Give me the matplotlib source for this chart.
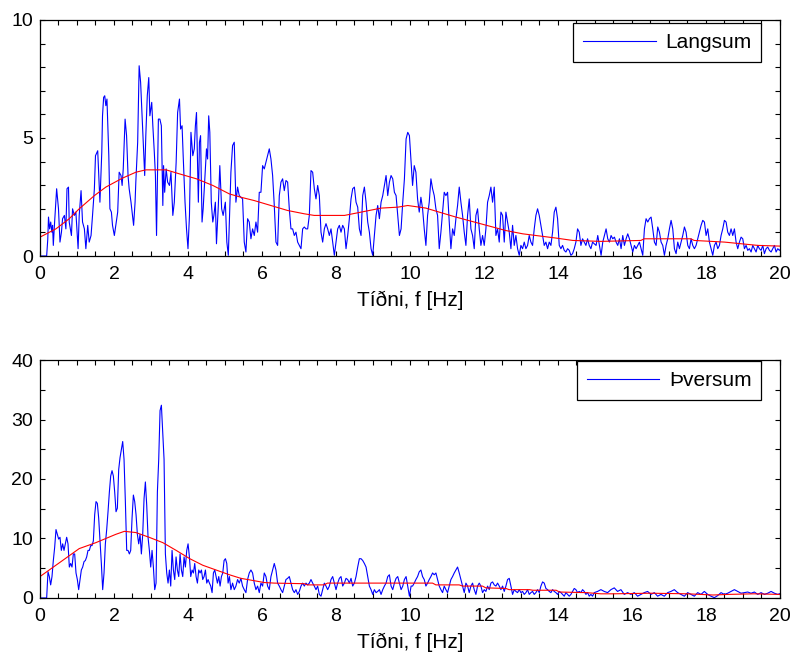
import numpy as np
import matplotlib.pyplot as plt
from matplotlib.ticker import MultipleLocator

plt.rcParams['font.family'] = ['Liberation Sans', 'DejaVu Sans']

# --- Langsum (efri mynd), blár ferill ---
lang_f1 = [0.00, 0.18, 0.21, 0.23, 0.26, 0.29, 0.32, 0.34, 0.36, 0.39, 0.45, 0.50, 0.54, 0.58, 0.61,
           0.66, 0.70, 0.73, 0.77, 0.79, 0.85, 0.88, 0.93, 0.97, 1.03, 1.06, 1.11, 1.15, 1.20, 1.24,
           1.29, 1.33, 1.38, 1.42, 1.47, 1.50, 1.56, 1.59, 1.62, 1.67, 1.69, 1.72, 1.75, 1.78, 1.81,
           1.86, 1.89, 1.93, 1.96, 2.01, 2.05, 2.10, 2.14, 2.19, 2.22, 2.25, 2.30, 2.34, 2.38, 2.41,
           2.46, 2.50, 2.53, 2.57, 2.59, 2.64, 2.68, 2.72, 2.76, 2.79, 2.83, 2.86, 2.90, 2.94, 2.97,
           3.02, 3.05, 3.09, 3.12, 3.15, 3.20, 3.24, 3.28, 3.32, 3.34, 3.37, 3.41, 3.45, 3.50, 3.54,
           3.59, 3.63, 3.68, 3.72, 3.77, 3.80, 3.84, 3.87, 3.92, 3.96, 4.00, 4.04, 4.08, 4.13, 4.17,
           4.20, 4.23, 4.28, 4.31, 4.34, 4.38, 4.41, 4.46, 4.50, 4.53, 4.56, 4.59, 4.63, 4.67, 4.70,
           4.74, 4.77, 4.82, 4.86, 4.91, 4.95, 5.01, 5.05, 5.09]
lang_v1 = [0.00, 0.00, 0.70, 1.65, 1.15, 1.44, 1.01, 1.30, 0.45, 1.30, 2.85, 2.00, 0.59, 1.01, 1.58,
           1.72, 1.15, 2.85, 2.92, 1.44, 0.87, 2.00, 1.72, 1.86, 0.31, 1.72, 2.77, 1.44, 1.15, 0.31,
           1.30, 0.59, 0.87, 1.72, 2.85, 4.25, 4.46, 3.41, 2.28, 4.39, 5.94, 6.72, 6.79, 6.37, 6.65,
           4.25, 2.00, 1.86, 1.30, 0.87, 1.30, 1.86, 3.55, 3.41, 2.99, 3.69, 5.80, 5.10, 3.41, 2.85,
           2.28, 1.72, 1.30, 2.28, 3.13, 4.82, 8.06, 7.35, 5.94, 4.96, 3.41, 5.10, 6.79, 7.56, 5.94,
           6.51, 5.52, 4.39, 3.41, 0.87, 5.80, 5.80, 5.52, 2.14, 3.83, 2.70, 3.69, 3.13, 2.99, 3.55,
           1.72, 2.28, 3.97, 6.08, 6.65, 5.38, 5.52, 4.25, 2.28, 1.15, 0.31, 1.72, 5.24, 4.25, 4.54,
           5.52, 6.08, 2.28, 4.82, 5.10, 1.44, 2.00, 3.41, 4.54, 4.11, 5.94, 5.24, 2.28, 1.44, 1.72,
           2.28, 0.52, 2.14, 3.83, 2.00, 1.72, 2.28, 0.59, 0.03]
# 5.16 - 10.03 Hz
lang_v2 = [3.55, 4.68, 4.82, 2.28, 2.92, 2.56, 2.49, 2.42, 0.59, 0.17, 1.58, 1.44, 0.73, 1.15, 0.87,
           1.44, 1.01, 2.70, 2.70, 3.83, 3.69, 3.97, 4.25, 4.54, 4.11, 3.41, 2.14, 0.59, 0.45, 2.56,
           3.13, 3.27, 2.77, 3.20, 3.13, 2.00, 1.15, 1.15, 0.87, 1.01, 0.59, 0.45, 0.31, 1.15, 1.23,
           1.15, 1.15, 1.72, 3.62, 3.55, 2.85, 2.42, 2.99, 2.56, 1.01, 0.59, 1.15, 1.37, 1.15, 0.87,
           1.15, 0.59, 0.03, 0.59, 1.15, 1.30, 1.01, 1.30, 1.15, 0.31, 0.87, 1.58, 2.42, 2.85, 2.92,
           2.28, 2.07, 1.15, 0.87, 2.56, 2.92, 2.28, 1.44, 1.01, 0.31, 0.03, 0.87, 1.72, 2.14, 1.58,
           2.28, 2.56, 2.99, 3.41, 2.56, 3.13, 3.41, 3.27, 2.70, 2.56, 1.72, 0.87, 1.15, 2.28, 3.27,
           4.96, 5.24, 5.10, 3.97]
# 10.07 - 14.98 Hz
lang_v3 = [2.99, 3.83, 3.55, 2.42, 1.86, 2.49, 2.00, 1.15, 0.45, 1.72, 2.28, 3.27, 2.85, 2.56, 2.00,
           1.72, 0.31, 1.01, 1.86, 2.70, 2.56, 2.70, 1.44, 0.31, 1.15, 0.87, 1.58, 2.14, 2.92, 2.28,
           1.72, 1.01, 0.45, 1.72, 2.42, 1.15, 0.87, 0.31, 1.72, 2.00, 1.15, 0.45, 0.87, 0.45, 1.15,
           2.28, 2.56, 2.92, 2.28, 2.92, 0.87, 1.15, 0.59, 1.86, 1.72, 0.59, 1.86, 1.44, 1.01, 0.31,
           1.30, 0.45, 0.87, 0.31, 0.03, 0.45, 0.31, 0.59, 0.31, 0.45, 0.87, 0.59, 0.45, 1.15, 1.72,
           2.00, 1.72, 1.30, 0.87, 0.45, 0.59, 0.31, 0.59, 0.45, 1.01, 1.86, 2.07, 1.58, 0.45, 0.31,
           0.45, 0.24, 0.17, 0.31, 0.24, 0.03, 0.10, 0.31, 0.59, 1.15, 1.01, 0.45, 0.73, 0.59, 0.45,
           0.73, 0.45, 0.31, 0.59, 0.52]
# 15.03 - 20.03 Hz
lang_v4 = [0.45, 0.87, 0.45, 0.03, 0.59, 0.87, 1.15, 0.73, 0.59, 0.87, 0.73, 0.80, 0.59, 0.45, 0.73,
           0.31, 0.87, 0.45, 0.73, 0.94, 0.73, 0.45, 0.17, 0.45, 0.31, 0.45, 0.59, 0.31, 0.03, 1.15,
           1.58, 1.44, 1.58, 1.65, 1.15, 0.59, 0.45, 1.23, 1.01, 0.59, 0.45, 0.03, 0.45, 0.73, 1.15,
           1.51, 1.15, 0.31, 0.10, 0.59, 0.31, 0.59, 0.87, 1.23, 1.01, 0.45, 0.31, 0.73, 0.45, 0.31,
           0.45, 0.73, 1.01, 1.30, 1.51, 1.44, 0.87, 1.15, 0.59, 0.31, 0.03, 0.45, 0.59, 0.31, 0.45,
           0.87, 1.15, 1.51, 1.44, 1.01, 0.87, 1.15, 0.87, 1.15, 0.59, 0.31, 0.59, 0.80, 0.73, 0.31,
           0.45, 0.24, 0.31, 0.17, 0.45, 0.31, 0.17, 0.45, 0.31, 0.24, 0.45, 0.10, 0.31, 0.38, 0.24,
           0.17, 0.31, 0.45, 0.17, 0.31, 0.24, 0.31]

# Langsum, rauður (jafnaður) ferill
lang_red_f = [0.00, 0.43, 0.79, 1.06, 1.47, 1.78, 2.23, 2.59, 2.86, 3.41, 3.77, 4.23, 4.67, 5.12,
              5.43, 5.79, 6.24, 6.69, 7.14, 7.41, 8.23, 8.68, 9.22, 9.67, 9.94, 10.43, 10.79, 11.24,
              11.69, 12.14, 12.59, 13.05, 13.50, 13.95, 14.40, 15.16, 16.24, 16.33, 17.59, 17.68,
              18.50, 18.95, 19.40, 20.00]
lang_red_v = [0.80, 1.15, 1.58, 2.00, 2.56, 2.92, 3.30, 3.55, 3.65, 3.65, 3.48, 3.27, 2.99, 2.63,
              2.49, 2.35, 2.14, 1.93, 1.79, 1.72, 1.72, 1.86, 2.03, 2.07, 2.14, 2.03, 1.86, 1.65,
              1.46, 1.27, 1.08, 0.94, 0.85, 0.76, 0.66, 0.62, 0.66, 0.73, 0.73, 0.66,
              0.59, 0.52, 0.45, 0.42]

# --- Þversum (neðri mynd), blár ferill ---
# 0 - 5.12 Hz
thv_v1 = [0, 0, 0, 0, 0, 0, 4.4, 3.6, 2.2, 3.6, 6.3, 8.5, 11.5, 10.7, 9.9, 10.2, 8.0, 9.1, 8.0, 9.1,
          10.2, 9.1, 5.2, 5.8, 5.2, 7.4, 7.4, 4.2, 3.1, 1.4, 3.1, 4.7, 5.2, 6.1, 6.3, 6.9, 8.0, 8.0,
          8.8, 8.8, 9.6, 14.0, 16.2, 15.9, 13.4, 9.6, 5.8, 1.4, 4.2, 9.1, 11.5, 14.5, 17.8, 20.5,
          21.4, 20.5, 17.8, 14.5, 15.1, 21.6, 23.6, 24.9, 26.3, 23.3, 16.2, 8.0, 8.0, 7.4, 8.0, 13.4,
          17.3, 16.2, 14.0, 10.7, 9.1, 10.7, 7.4, 10.7, 16.7, 19.5, 15.6, 10.2, 8.0, 5.2, 8.0, 5.2,
          1.4, 2.5, 17.8, 23.3, 31.5, 32.4, 27.7, 23.3, 7.4, 4.2, 2.5, 4.7, 2.0, 8.0, 4.7, 3.1, 6.9,
          4.7, 3.6, 7.4, 4.7, 3.6, 6.9, 5.2, 8.0, 9.1, 6.9, 3.6, 4.7, 4.2, 5.8, 3.6, 2.5, 4.7, 4.2,
          4.7, 3.1, 3.6, 4.7, 2.5, 3.1, 2.5, 2.0, 0.9, 4.2, 4.7, 3.6, 2.5, 3.6, 2.0, 3.6, 4.2, 6.3,
          6.6, 5.8, 2.5, 3.6]
# 5.16 - 10.03 Hz
thv_v2 = [1.4, 2.5, 1.4, 2.0, 3.1, 2.5, 3.3, 2.0, 1.4, 0.9, 3.1, 4.2, 4.7, 4.2, 2.5, 1.4, 2.0, 0.9,
          2.5, 2.0, 4.2, 3.6, 2.0, 1.4, 3.6, 4.7, 5.8, 4.7, 2.5, 2.0, 1.4, 0.9, 2.0, 3.1, 3.3, 3.6,
          2.5, 1.4, 0.9, 1.4, 0.6, 1.1, 2.0, 2.5, 2.0, 2.5, 2.2, 2.5, 3.1, 2.5, 2.0, 1.4, 2.0, 0.6,
          0.3, 1.4, 2.5, 2.0, 1.4, 2.0, 3.1, 3.6, 2.5, 1.4, 2.5, 3.3, 3.6, 2.0, 2.5, 3.3, 3.1, 2.5,
          3.3, 2.0, 2.5, 3.6, 5.2, 6.6, 6.6, 6.3, 5.8, 5.2, 3.6, 2.0, 1.4, 0.6, 1.4, 0.9, 1.1, 1.4,
          0.6, 1.4, 2.0, 2.5, 3.6, 3.9, 2.0, 1.4, 2.5, 3.3, 3.6, 2.5, 1.4, 2.0, 3.1, 3.6, 2.0, 0.3,
          2.0]
# 10.07 - 14.98 Hz
thv_v3 = [2.0, 2.5, 3.1, 3.6, 4.4, 4.7, 3.6, 3.1, 2.0, 2.5, 3.1, 3.6, 4.2, 3.9, 4.2, 3.1, 2.0, 1.4,
          0.9, 2.0, 1.4, 0.9, 2.0, 3.1, 3.6, 4.2, 4.7, 5.2, 4.2, 3.1, 2.0, 0.9, 2.5, 2.0, 0.9, 2.0,
          2.5, 1.4, 0.6, 2.0, 2.5, 2.0, 0.9, 1.4, 1.1, 2.0, 1.4, 2.5, 2.7, 2.2, 2.0, 2.5, 2.0, 1.4,
          2.0, 1.1, 2.0, 3.1, 3.3, 2.0, 0.6, 1.4, 1.1, 0.9, 1.4, 0.9, 1.1, 0.6, 0.9, 1.4, 0.6, 0.9,
          1.1, 0.6, 0.9, 1.4, 0.9, 2.0, 2.7, 2.5, 1.6, 1.4, 1.1, 0.9, 1.4, 1.1, 0.9, 0.6, 1.1, 0.9,
          0.6, 0.3, 0.9, 0.6, 0.3, 0.6, 1.1, 1.6, 1.4, 0.9, 1.1, 0.9, 1.4, 1.1, 0.6, 0.9, 0.3, 0.6,
          0.3, 0.9]
# 15.07 - 20.03 Hz
thv_v4 = [1.1, 1.4, 1.1, 0.9, 1.4, 1.7, 1.1, 1.4, 0.6, 0.9, 0.6, 0.9, 0.3, 0.6, 0.9, 1.1, 0.6, 0.9,
          0.3, 0.6, 0.3, 0.9, 1.1, 1.4, 0.9, 0.6, 0.3, 0.9, 0.6, 0.3, 0.9, 0.6, 1.1, 0.6, 0.3, 0.05,
          0.4, 0.9, 0.6, 0.8, 1.1, 1.4, 1.1, 0.8, 0.9, 1.0, 0.8, 1.0, 0.6, 0.9, 0.6, 0.8, 1.1, 0.8,
          0.6, 0.8]

# Þversum, rauður ferill
thv_red_f = [0.00, 0.61, 1.06, 1.51, 2.05, 2.28, 2.59, 2.95, 3.32, 3.68, 4.05, 4.40, 4.76, 5.12,
             5.43, 5.70, 6.06, 6.33, 7.14, 7.23, 7.68, 7.77, 10.61, 10.70, 11.33, 11.42, 11.96,
             12.05, 12.59, 12.68, 13.23, 13.32, 13.95, 14.04, 14.76, 15.16, 15.50, 16.50, 17.50,
             18.20, 18.60, 19.30, 20.00]
thv_red_v = [3.6, 6.3, 8.3, 9.3, 10.7, 11.2, 11.0, 10.2, 9.3, 8.0, 6.6, 5.5, 4.7, 3.9,
             3.3, 3.0, 2.6, 2.5, 2.4, 2.2, 2.2, 2.5, 2.5, 2.2, 2.2, 2.0, 2.0,
             1.7, 1.6, 1.4, 1.4, 1.3, 1.3, 1.0, 0.9, 0.7, 0.7, 0.8, 0.7,
             0.5, 0.6, 0.7, 0.6]

# Tíðniás fyrir hvern 5 Hz bút
lang_f = np.concatenate([lang_f1,
                         np.linspace(5.16, 10.03, len(lang_v2)),
                         np.linspace(10.07, 14.98, len(lang_v3)),
                         np.linspace(15.03, 20.03, len(lang_v4))])
lang_v = np.concatenate([lang_v1, lang_v2, lang_v3, lang_v4])
thv_f = np.concatenate([np.linspace(0.0, 5.12, len(thv_v1)),
                        np.linspace(5.16, 10.03, len(thv_v2)),
                        np.linspace(10.07, 14.98, len(thv_v3)),
                        np.linspace(15.07, 20.03, len(thv_v4))])
thv_v = np.concatenate([thv_v1, thv_v2, thv_v3, thv_v4])

fig = plt.figure(figsize=(7.95, 6.59), dpi=100)
ax1 = fig.add_axes([0.0503, 0.6115, 0.9308, 0.3582])
ax2 = fig.add_axes([0.0503, 0.0926, 0.9308, 0.3611])


def stilla(ax, ymax, ymaj, ymin, top_off):
    ax.set_xlim(0, 20)
    ax.set_ylim(0, ymax)
    ax.xaxis.set_major_locator(MultipleLocator(2))
    ax.xaxis.set_minor_locator(MultipleLocator(0.5))
    ax.yaxis.set_major_locator(MultipleLocator(ymaj))
    ax.yaxis.set_minor_locator(MultipleLocator(ymin))
    ax.tick_params(which='both', direction='in', top=True, right=True, length=3.6, width=0.8,
                   labelsize=14)
    ax.tick_params(axis='x', pad=7)
    ax.tick_params(axis='y', pad=5)
    for s in ax.spines.values():
        s.set_linewidth(0.9)
    ax.set_xlabel('Tíðni, f [Hz]', fontsize=15, labelpad=6)
    leg = ax.legend(loc='upper right', bbox_to_anchor=(0.975, top_off), fontsize=15,
                    fancybox=False, edgecolor='black', framealpha=1, handlelength=3.5,
                    handletextpad=0.45, borderaxespad=0, borderpad=0.48)
    leg.get_frame().set_linewidth(0.9)


ax1.plot(lang_f, lang_v, color='blue', lw=0.8, label='Langsum')
ax1.plot(lang_red_f, lang_red_v, color='red', lw=0.8)
stilla(ax1, 10, 5, 1, 0.987)

ax2.plot(thv_f, thv_v, color='blue', lw=0.8, label='Þversum')
ax2.plot(thv_red_f, thv_red_v, color='red', lw=0.8)
stilla(ax2, 40, 10, 5, 0.996)

fig.savefig('out.png', dpi=100)
